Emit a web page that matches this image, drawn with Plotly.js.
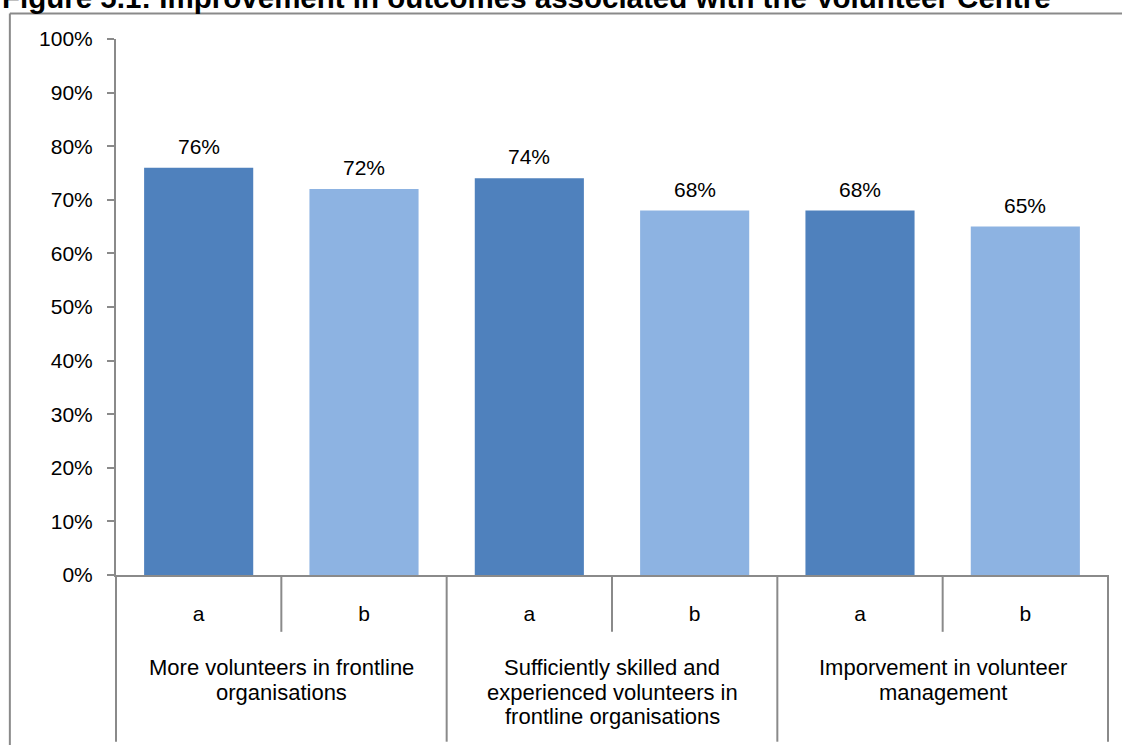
<!DOCTYPE html>
<html>
<head>
<meta charset="utf-8">
<script src="https://cdn.plot.ly/plotly-3.0.1.min.js"></script>
<style>html,body{margin:0;padding:0;background:#fff;}#chart{width:1122px;height:745px;}</style>
</head>
<body>
<div id="chart"></div>
<script>
// ---- data ----
const titleText = "Figure 5.1: Improvement in outcomes associated with the Volunteer Centre";
const groups = ["More volunteers in frontline<br>organisations",
                "Sufficiently skilled and<br>experienced volunteers in<br>frontline organisations",
                "Imporvement in volunteer<br>management"];
const subLabels = ["a", "b"];
const seriesA = [0.76, 0.74, 0.68];
const seriesB = [0.72, 0.68, 0.65];
const yTickVals = [0, 0.1, 0.2, 0.3, 0.4, 0.5, 0.6, 0.7, 0.8, 0.9, 1.0];

// ---- build ----
const colA = "#4F81BD", colB = "#8DB3E2";
const xs = [], ys = [], cols = [], tickText = [];
groups.forEach((g, gi) => {
  xs.push(gi * 2);     ys.push(seriesA[gi]); cols.push(colA); tickText.push(subLabels[0]);
  xs.push(gi * 2 + 1); ys.push(seriesB[gi]); cols.push(colB); tickText.push(subLabels[1]);
});
const nCat = xs.length;
const lineCol = "#8a8a8a";
const fam = "Liberation Sans, Arial, sans-serif";
const font = {family: fam, size: 21, color: "#000"};
const groupFont = {family: fam, size: 22, color: "#000"};

const trace = {
  type: "bar", x: xs, y: ys, width: 0.66,
  marker: {color: cols, line: {width: 0}},
  hoverinfo: "skip"
};

const annotations = [];
xs.forEach((x, i) => {
  annotations.push({x: x, y: ys[i], xref: "x", yref: "y", text: Math.round(ys[i] * 100) + "%",
    showarrow: false, yanchor: "bottom", yshift: 8, font: font});
});
// group labels, one annotation per line for Excel-like line spacing
const lineY0 = -0.1735, lineStep = 0.0448;
groups.forEach((g, gi) => {
  g.split("<br>").forEach((ln, li) => {
    annotations.push({x: gi * 2 + 0.5, y: lineY0 - li * lineStep, xref: "x", yref: "paper", text: ln,
      showarrow: false, yanchor: "middle", font: groupFont, align: "center"});
  });
});
annotations.push({x: -0.117, xanchor: "left", xref: "paper", y: 1.043, yanchor: "bottom", yref: "paper",
  text: "<b>" + titleText + "</b>", showarrow: false,
  font: {family: fam, size: 29.5, color: "#000"}});

const shapes = [];
// short dividers between a and b
for (let k = 1; k < nCat; k += 2) {
  const xd = k / nCat;
  shapes.push({type: "line", xref: "x domain", yref: "paper", x0: xd, x1: xd, y0: 0, y1: -0.106,
    line: {color: lineCol, width: 2}});
}
// group dividers
for (let k = 0; k <= nCat; k += 2) {
  const xd = k / nCat;
  shapes.push({type: "line", xref: "x domain", yref: "paper", x0: xd, x1: xd, y0: 0, y1: -0.311,
    line: {color: lineCol, width: 2}});
}
// outer frame
shapes.push({type: "line", xref: "paper", yref: "paper", x0: -0.107, x1: -0.107, y0: 1.0475, y1: -0.4,
  line: {color: lineCol, width: 2}});
shapes.push({type: "line", xref: "paper", yref: "paper", x0: -0.107, x1: 1.1, y0: 1.0475, y1: 1.0475,
  line: {color: lineCol, width: 2}});

const layout = {
  width: 1122, height: 745,
  margin: {l: 116, r: 14, t: 39, b: 170, pad: 0},
  paper_bgcolor: "#fff", plot_bgcolor: "#fff",
  showlegend: false,
  font: font,
  xaxis: {
    range: [-0.5, nCat - 0.5], tickvals: xs, ticktext: tickText,
    showline: true, linecolor: lineCol, linewidth: 2, ticks: "", showgrid: false, zeroline: false,
    tickfont: font, ticklabelstandoff: 19, fixedrange: true
  },
  yaxis: {
    range: [0, 1], tickvals: yTickVals, tickformat: ".0%",
    showline: true, linecolor: lineCol, linewidth: 2, ticks: "outside", ticklen: 7, tickwidth: 2,
    tickcolor: lineCol, showgrid: false, zeroline: false, tickfont: font, ticklabelstandoff: 10, fixedrange: true
  },
  annotations: annotations,
  shapes: shapes
};

Plotly.newPlot("chart", [trace], layout, {displayModeBar: false, staticPlot: true});
</script>
</body>
</html>
